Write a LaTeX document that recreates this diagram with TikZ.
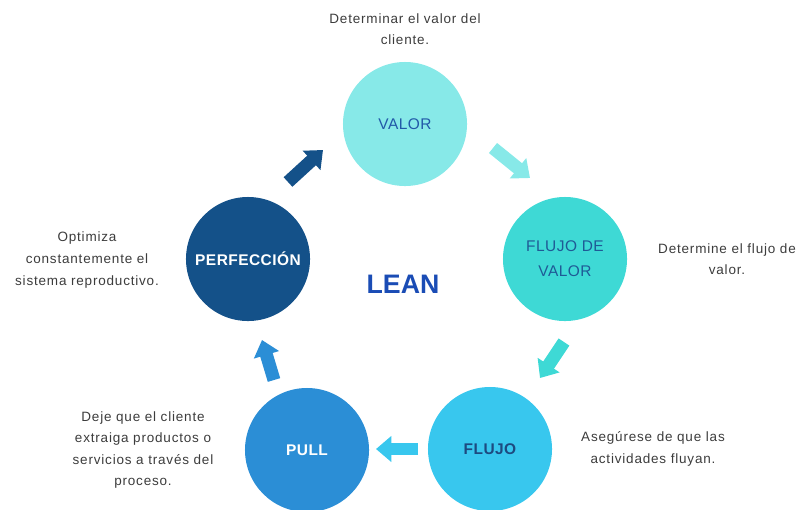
\documentclass[tikz,border=0pt]{standalone}
\usepackage{fontspec}
\setmainfont{Liberation Sans}
\newfontfamily\notefont[LetterSpace=6]{Liberation Sans}
\newfontfamily\stagefont[LetterSpace=3]{Liberation Sans}
\usetikzlibrary{arrows.meta,positioning}
\definecolor{valorfill}{HTML}{87E9E8}
\definecolor{flujovfill}{HTML}{3ED9D5}
\definecolor{flujofill}{HTML}{38C7EE}
\definecolor{pullfill}{HTML}{2B8ED6}
\definecolor{perffill}{HTML}{145189}
\definecolor{valortext}{HTML}{2159A8}
\definecolor{flujovtext}{HTML}{1F5A96}
\definecolor{flujotext}{HTML}{1D4A80}
\definecolor{leanblue}{HTML}{1A4CB5}
\definecolor{notegray}{HTML}{3C3C3C}

\begin{document}
\begin{tikzpicture}[x=0.025cm, y=-0.025cm]
\tikzset{
    stage/.style={circle, minimum size=3.1cm, inner sep=0pt, align=center,
        font=\stagefont\fontsize{11}{18}\selectfont},
    boldstage/.style={stage, font=\stagefont\fontsize{11}{18}\selectfont\bfseries},
    note/.style={align=center, text=notegray, font=\notefont\fontsize{9.6}{15.4}\selectfont},
    flow/.style={line width=9.2pt, -{Triangle[length=11pt, width=18pt]}}
}
\clip (0,0) rectangle (801,509);
\useasboundingbox (0,0) rectangle (801,509);

% the five stages
\node[stage, fill=valorfill, text=valortext] (valor) at (405,124) {VALOR};
\node[stage, fill=flujovfill, text=flujovtext] (flujovalor) at (565,259) {FLUJO DE\\VALOR};
\node[boldstage, fill=flujofill, text=flujotext] (flujo) at (490,449) {FLUJO};
\node[boldstage, fill=pullfill, text=white] (pull) at (307,450) {PULL};
\node[boldstage, fill=perffill, text=white] (perf) at (248,259) {PERFECCIÓN};

\node[text=leanblue, font=\fontsize{19}{22}\selectfont\bfseries] (lean) at (403,284) {LEAN};

% descriptions
\node[note] (valornote) at (405,29) {Determinar el valor del\\cliente.};
\node[note] (flujovnote) at (727,259) {Determine el flujo de\\valor.};
\node[note] (flujonote) at (653,449) {Asegúrese de que las\\actividades fluyan.};
\node[note] (pullnote) at (143,450) {Deje que el cliente\\extraiga productos o\\servicios a través del\\proceso.};
\node[note] (perfnote) at (87,260) {Optimiza\\constantemente el\\sistema reproductivo.};

% arrows between the stages
\coordinate (a1s) at (288,182); \coordinate (a1e) at (323,150);
\coordinate (a2s) at (493,148); \coordinate (a2e) at (530,178);
\coordinate (a3s) at (564,342); \coordinate (a3e) at (540,378);
\coordinate (a4s) at (418,449); \coordinate (a4e) at (376,449);
\coordinate (a5s) at (274,380); \coordinate (a5e) at (262,340);

\draw[flow, perffill] (a1s) -- (a1e);
\draw[flow, valorfill] (a2s) -- (a2e);
\draw[flow, flujovfill] (a3s) -- (a3e);
\draw[flow, flujofill] (a4s) -- (a4e);
\draw[flow, pullfill] (a5s) -- (a5e);

\end{tikzpicture}
\end{document}
